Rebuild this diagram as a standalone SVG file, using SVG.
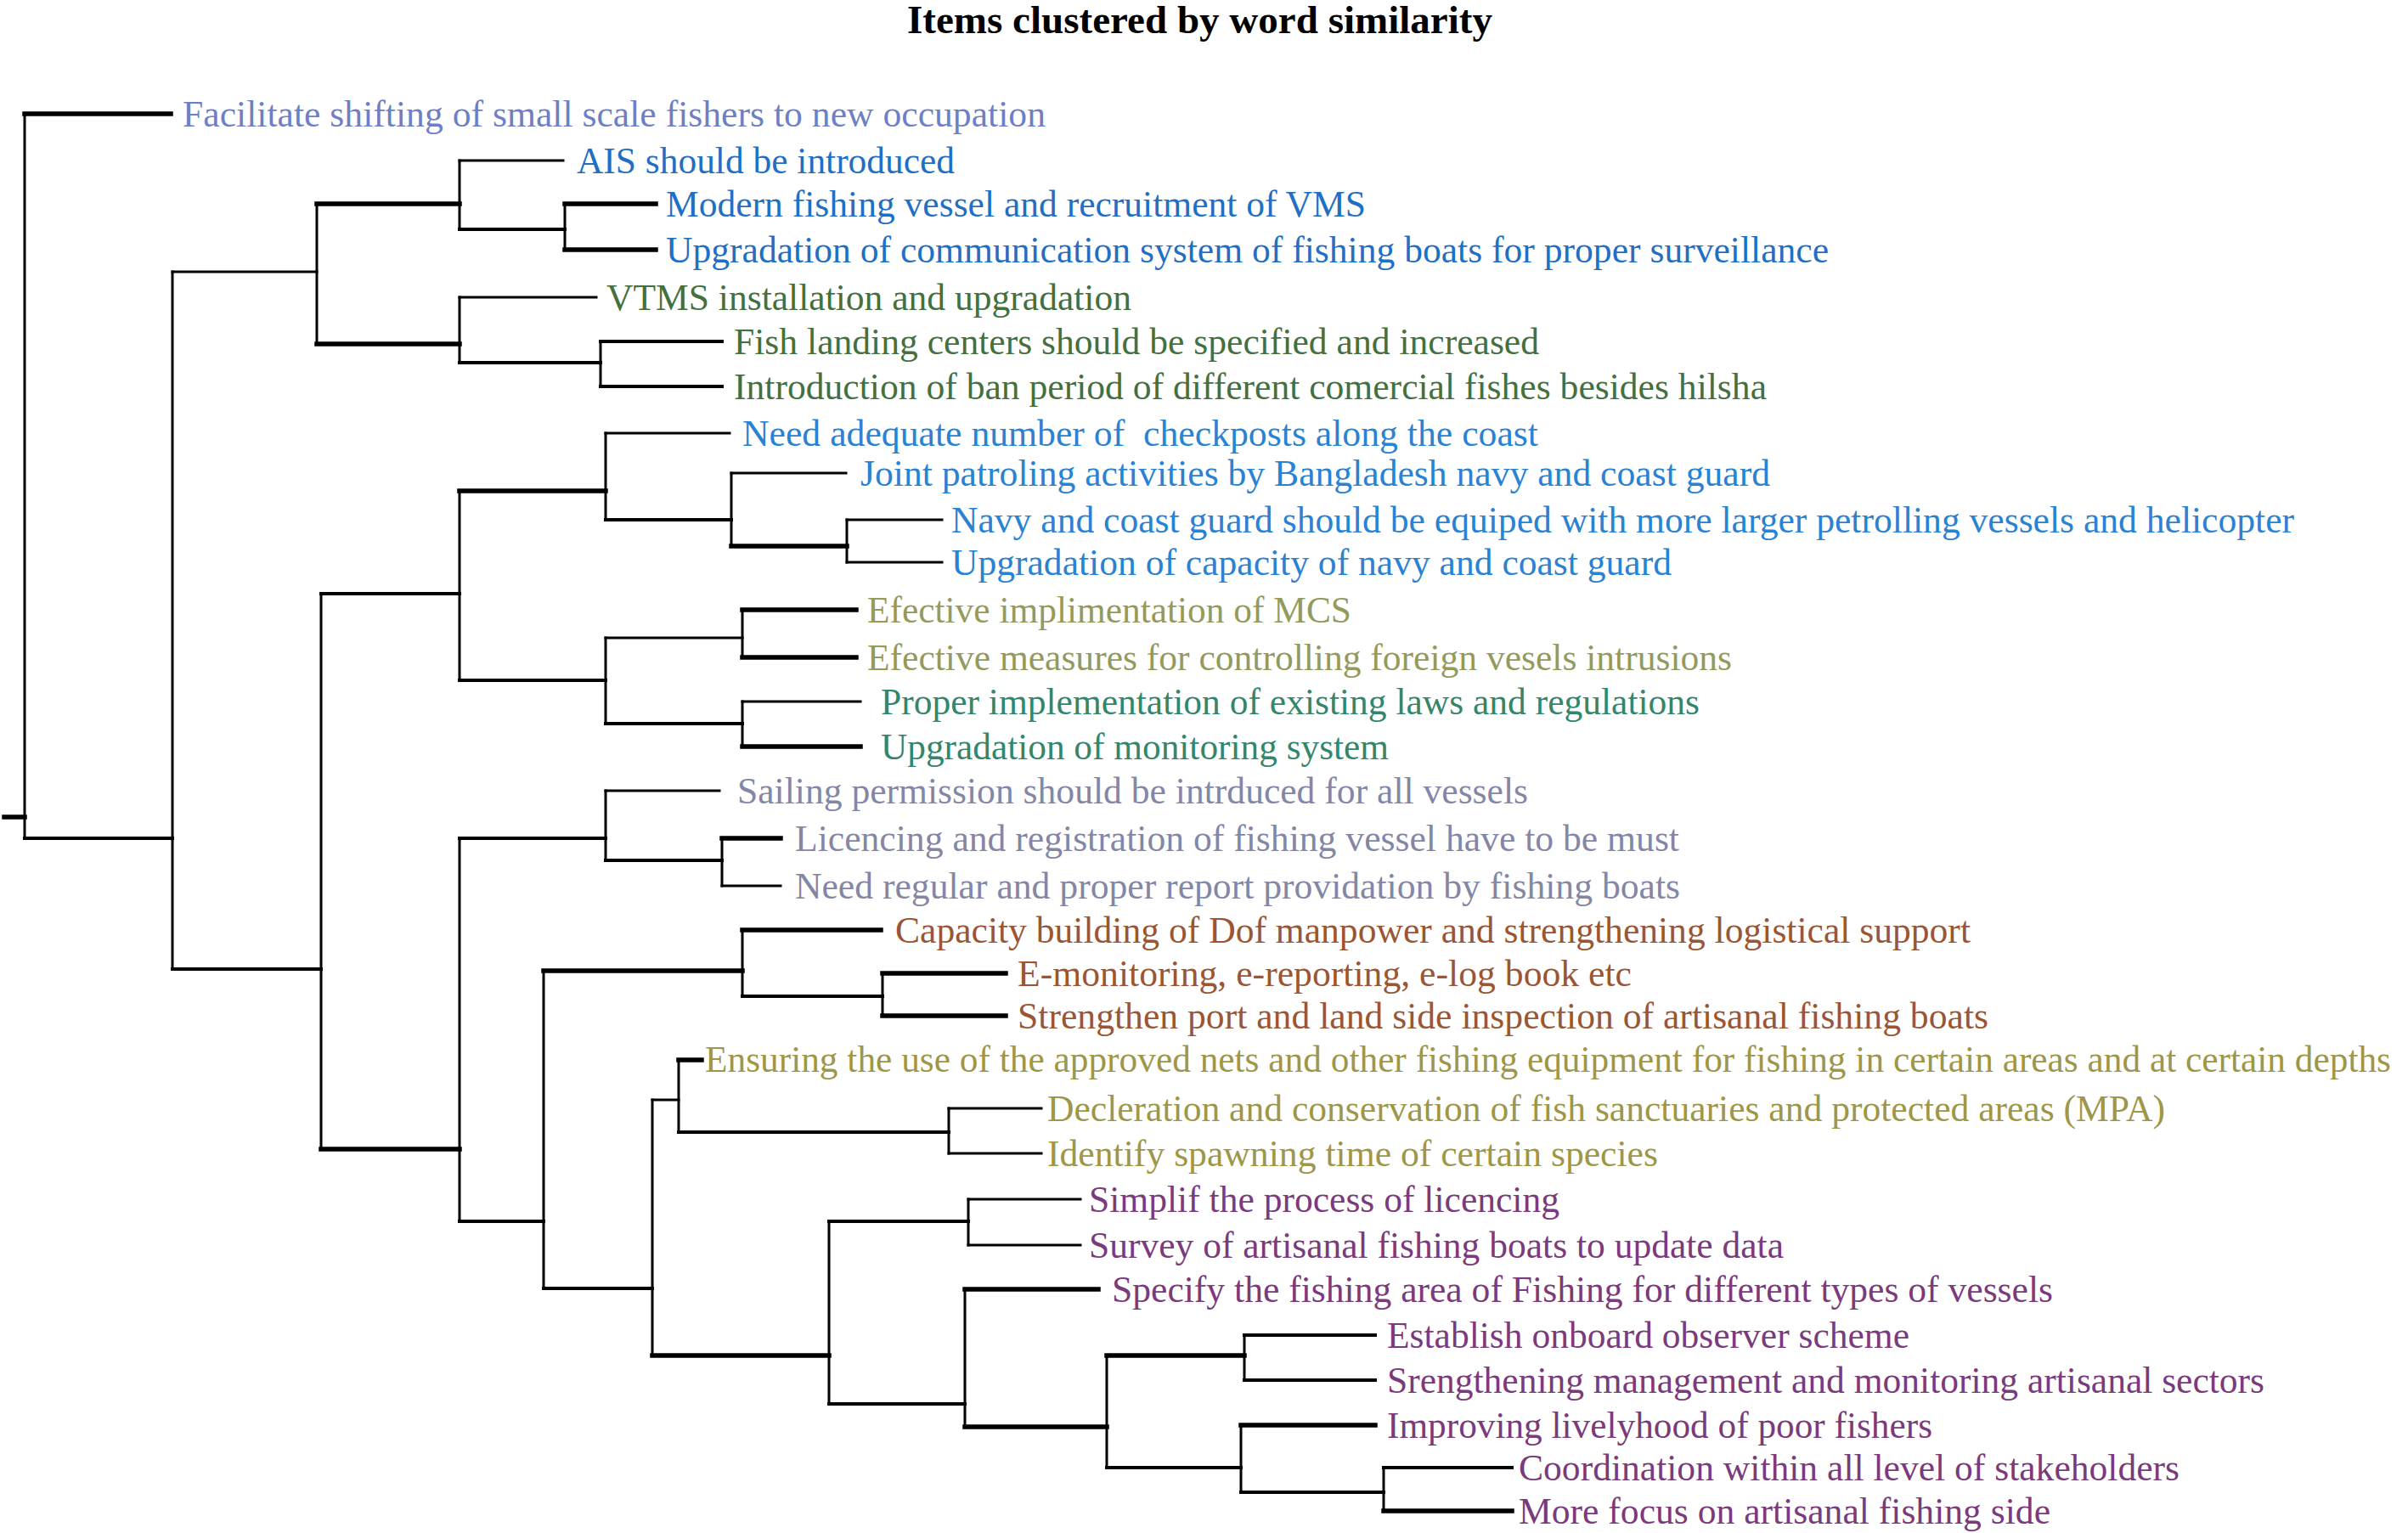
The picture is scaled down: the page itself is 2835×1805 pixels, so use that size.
<svg xmlns="http://www.w3.org/2000/svg" width="2835" height="1805" viewBox="0 0 2835 1805">
<style>
.bg{fill:#ffffff}
.t{font-family:"Liberation Serif","Times New Roman",serif;font-size:45px}
.tn{font-size:43.5px}
.ttl{font-family:"Liberation Serif","Times New Roman",serif;font-size:46px;font-weight:bold;fill:#000}
.c1{fill:#6f7fc6}
.c2{fill:#1f70c4}
.c3{fill:#44703f}
.c4{fill:#2a82d2}
.c5{fill:#949a5c}
.c6{fill:#33866c}
.c7{fill:#8486a6}
.c8{fill:#9a5634}
.c9{fill:#9e9648}
.c10{fill:#7a3a7c}
.l{stroke:#000;fill:none;stroke-linecap:square}
.w3{stroke-width:3}
.w4{stroke-width:4}
.w5{stroke-width:5.5}
</style>
<rect class="bg" x="0" y="0" width="2835" height="1805"/>
<text class="ttl" x="1068" y="39" textLength="689" lengthAdjust="spacingAndGlyphs">Items clustered by word similarity</text>
<g id="connectors">
<path class="l w3" d="M29 134V987 M203 320V1141 M373 240V405 M541 189V270 M665 240V294 M541 350V427 M707 402V455 M378 699V1353 M541 578V801 M713 510V612 M861 557V643 M997 612V662 M713 751V852 M874 718V774 M874 826V879 M541 987V1438 M713 931V1013 M850 987V1043 M640 1143V1517 M874 1095V1173 M1039 1146V1196 M768 1295V1596 M799 1248V1333 M1117 1305V1358 M976 1438V1653 M1140 1412V1466 M1136 1518V1680 M1303 1596V1728 M1465 1572V1625 M1461 1678V1757 M1629 1728V1779"/>
<path class="l w3" d="M203 320H373 M541 189H663 M541 350H702 M713 510H859 M861 557H996 M997 612H1109 M997 662H1109 M713 751H874 M874 826H1013 M713 931H847 M850 1043H919 M768 1295H799 M1117 1305H1226 M1117 1358H1226 M1140 1412H1272 M1140 1466H1272"/>
<path class="l w4" d="M29 987H203 M203 1141H378 M541 270H665 M541 427H707 M707 402H850 M707 455H850 M378 699H541 M713 612H861 M541 801H713 M713 852H874 M541 987H713 M713 1013H850 M541 1438H640 M874 1173H1039 M640 1517H768 M799 1333H1117 M976 1438H1140 M976 1653H1136 M1303 1728H1461 M1465 1572H1619 M1465 1625H1619 M1461 1757H1629 M1629 1728H1780"/>
<path class="l w5" d="M5 962H29 M29 134H201 M373 240H541 M373 405H541 M665 240H772 M665 294H772 M541 578H713 M861 643H997 M874 718H1008 M874 774H1008 M874 879H1013 M378 1353H541 M850 987H919 M640 1143H874 M874 1095H1037 M1039 1146H1184 M1039 1196H1184 M768 1596H976 M799 1248H826 M1136 1518H1293 M1136 1680H1303 M1303 1596H1465 M1461 1678H1619 M1629 1779H1780"/>
</g>
<g id="n01"><text class="t c1" x="215" y="149" textLength="1016" lengthAdjust="spacingAndGlyphs">Facilitate shifting of small scale fishers to new occupation</text></g>
<g id="n02"><text class="t c2" x="679" y="204" textLength="445" lengthAdjust="spacingAndGlyphs">AIS should be introduced</text></g>
<g id="n03"><text class="t c2" x="784" y="255" textLength="824" lengthAdjust="spacingAndGlyphs">Modern fishing vessel and recruitment of VMS</text></g>
<g id="n04"><text class="t c2" x="784" y="309" textLength="1369" lengthAdjust="spacingAndGlyphs">Upgradation of communication system of fishing boats for proper surveillance</text></g>
<g id="n05"><text class="t c3" x="714" y="365" textLength="618" lengthAdjust="spacingAndGlyphs">VTMS installation and upgradation</text></g>
<g id="n06"><text class="t c3" x="864" y="417" textLength="948" lengthAdjust="spacingAndGlyphs">Fish landing centers should be specified and increased</text></g>
<g id="n07"><text class="t c3" x="864" y="470" textLength="1216" lengthAdjust="spacingAndGlyphs">Introduction of ban period of different comercial fishes besides hilsha</text></g>
<g id="n08"><text class="t c4" x="874" y="525" textLength="937" lengthAdjust="spacingAndGlyphs" xml:space="preserve">Need adequate number of  checkposts along the coast</text></g>
<g id="n09"><text class="t c4" x="1013" y="572" textLength="1071" lengthAdjust="spacingAndGlyphs">Joint patroling activities by Bangladesh navy and coast guard</text></g>
<g id="n10"><text class="t c4" x="1120" y="627" textLength="1581" lengthAdjust="spacingAndGlyphs">Navy and coast guard should be equiped with more larger petrolling vessels and helicopter</text></g>
<g id="n11"><text class="t c4" x="1120" y="677" textLength="848" lengthAdjust="spacingAndGlyphs">Upgradation of capacity of navy and coast guard</text></g>
<g id="n12"><text class="t c5" x="1021" y="733" textLength="570" lengthAdjust="spacingAndGlyphs">Efective implimentation of MCS</text></g>
<g id="n13"><text class="t c5" x="1021" y="789" textLength="1018" lengthAdjust="spacingAndGlyphs">Efective measures for controlling foreign vesels intrusions</text></g>
<g id="n14"><text class="t c6" x="1037" y="841" textLength="964" lengthAdjust="spacingAndGlyphs">Proper implementation of existing laws and regulations</text></g>
<g id="n15"><text class="t c6" x="1037" y="894" textLength="598" lengthAdjust="spacingAndGlyphs">Upgradation of monitoring system</text></g>
<g id="n16"><text class="t c7" x="868" y="946" textLength="931" lengthAdjust="spacingAndGlyphs">Sailing permission should be intrduced for all vessels</text></g>
<g id="n17"><text class="t c7" x="936" y="1002" textLength="1041" lengthAdjust="spacingAndGlyphs">Licencing and registration of fishing vessel have to be must</text></g>
<g id="n18"><text class="t c7" x="936" y="1058" textLength="1042" lengthAdjust="spacingAndGlyphs">Need regular and proper report providation by fishing boats</text></g>
<g id="n19"><text class="t c8" x="1054" y="1110" textLength="1266" lengthAdjust="spacingAndGlyphs">Capacity building of Dof manpower and strengthening logistical support</text></g>
<g id="n20"><text class="t c8" x="1198" y="1161" textLength="723" lengthAdjust="spacingAndGlyphs">E-monitoring, e-reporting, e-log book etc</text></g>
<g id="n21"><text class="t c8" x="1198" y="1211" textLength="1143" lengthAdjust="spacingAndGlyphs">Strengthen port and land side inspection of artisanal fishing boats</text></g>
<g id="n22"><text class="t tn c9" x="830" y="1262" textLength="1985" lengthAdjust="spacingAndGlyphs">Ensuring the use of the approved nets and other fishing equipment for fishing in certain areas and at certain depths</text></g>
<g id="n23"><text class="t c9" x="1233" y="1320" textLength="1316" lengthAdjust="spacingAndGlyphs">Decleration and conservation of fish sanctuaries and protected areas (MPA)</text></g>
<g id="n24"><text class="t c9" x="1233" y="1373" textLength="719" lengthAdjust="spacingAndGlyphs">Identify spawning time of certain species</text></g>
<g id="n25"><text class="t c10" x="1282" y="1427" textLength="554" lengthAdjust="spacingAndGlyphs">Simplif the process of licencing</text></g>
<g id="n26"><text class="t c10" x="1282" y="1481" textLength="818" lengthAdjust="spacingAndGlyphs">Survey of artisanal fishing boats to update data</text></g>
<g id="n27"><text class="t c10" x="1309" y="1533" textLength="1108" lengthAdjust="spacingAndGlyphs">Specify the fishing area of Fishing for different types of vessels</text></g>
<g id="n28"><text class="t c10" x="1633" y="1587" textLength="615" lengthAdjust="spacingAndGlyphs">Establish onboard observer scheme</text></g>
<g id="n29"><text class="t c10" x="1633" y="1640" textLength="1033" lengthAdjust="spacingAndGlyphs">Srengthening management and monitoring artisanal sectors</text></g>
<g id="n30"><text class="t c10" x="1633" y="1693" textLength="642" lengthAdjust="spacingAndGlyphs">Improving livelyhood of poor fishers</text></g>
<g id="n31"><text class="t c10" x="1788" y="1743" textLength="778" lengthAdjust="spacingAndGlyphs">Coordination within all level of stakeholders</text></g>
<g id="n32"><text class="t c10" x="1788" y="1794" textLength="626" lengthAdjust="spacingAndGlyphs">More focus on artisanal fishing side</text></g>
</svg>
